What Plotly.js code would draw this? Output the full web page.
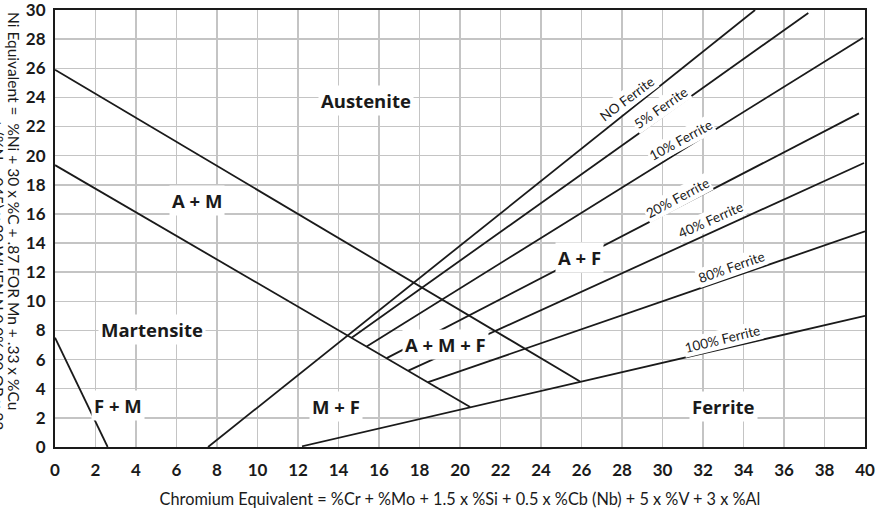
<!DOCTYPE html>
<html>
<head>
<meta charset="utf-8">
<script src="https://cdn.plot.ly/plotly-3.0.1.min.js"></script>
<style>html,body{margin:0;padding:0;background:#fff;}#chart{width:888px;height:523px;}</style>
</head>
<body>
<div id="chart"></div>
<script>
// Boundary lines (Chromium equivalent x, Nickel equivalent y)
const noFerriteX = [7.56, 34.57], noFerriteY = [0, 30];
const ferrite5X = [14.65, 37.2], ferrite5Y = [7.5, 29.8];
const ferrite10X = [15.39, 39.9], ferrite10Y = [6.9, 28.1];
const ferrite20X = [16.38, 39.7], ferrite20Y = [6.1, 22.9];
const ferrite40X = [17.45, 39.95], ferrite40Y = [5.24, 19.5];
const ferrite80X = [18.43, 40], ferrite80Y = [4.45, 14.8];
const ferrite100X = [12.2, 40], ferrite100Y = [0.05, 9.0];
const upperMartX = [0, 25.93], upperMartY = [25.9, 4.5];
const lowerMartX = [0, 20.5], lowerMartY = [19.35, 2.75];
const fmLineX = [0, 2.6], fmLineY = [7.5, 0];

// Region labels
const regionText = ["Austenite", "A + M", "Martensite", "F + M", "M + F", "A + M + F", "A + F", "Ferrite"];
const regionX = [15.36, 7.0, 4.8, 3.1, 13.9, 19.26, 25.9, 33.0];
const regionY = [23.8, 16.9, 8.1, 2.85, 2.75, 7.07, 13.0, 2.8];

// Ferrite line labels
const ferriteText = ["NO Ferrite", "5% Ferrite", "10% Ferrite", "20% Ferrite", "40% Ferrite", "80% Ferrite", "100% Ferrite"];
const ferriteLabelX = [28.23, 29.9, 30.9, 30.74, 32.35, 33.42, 32.96];
const ferriteLabelY = [23.9, 23.3, 21.1, 17.1, 15.6, 12.33, 7.4];
const ferriteLabelAngle = [-37, -35, -28.5, -28, -24, -19.5, -13.7];

const xTicks = [0,2,4,6,8,10,12,14,16,18,20,22,24,26,28,30,32,34,36,38,40];
const yTicks = [0,2,4,6,8,10,12,14,16,18,20,22,24,26,28,30];

const yTitleMain = 'Ni Equivalent =  %Ni + 30 x %C + .87 FOR Mn + .33 x %Cu';
const yTitleSecond = '+ (%N - .045) x 30 WHEN N 0.0% 30 OR x 22';
const xTitle = 'Chromium Equivalent = %Cr + %Mo + 1.5 x %Si + 0.5 x %Cb (Nb) + 5 x %V + 3 x %Al';

const lineSets = [
  [noFerriteX, noFerriteY], [ferrite5X, ferrite5Y], [ferrite10X, ferrite10Y],
  [ferrite20X, ferrite20Y], [ferrite40X, ferrite40Y], [ferrite80X, ferrite80Y],
  [ferrite100X, ferrite100Y], [upperMartX, upperMartY], [lowerMartX, lowerMartY],
  [fmLineX, fmLineY]
];

const traces = lineSets.map(function(s){
  return {x: s[0], y: s[1], mode: 'lines', type: 'scatter', hoverinfo: 'skip',
          line: {color: '#1a1a1a', width: 1.8}, showlegend: false, cliponaxis: false};
});

const annotations = [];
regionText.forEach(function(t, i){
  annotations.push({x: regionX[i], y: regionY[i], xref: 'x', yref: 'y', text: t, showarrow: false,
    font: {family: '"Open Sans", sans-serif', size: 18.5, color: '#1a1a1a', weight: 'bold'},
    bgcolor: '#ffffff', borderpad: 2});
});
ferriteText.forEach(function(t, i){
  annotations.push({x: ferriteLabelX[i], y: ferriteLabelY[i], xref: 'x', yref: 'y', text: t, showarrow: false,
    textangle: ferriteLabelAngle[i],
    font: {family: 'Lato, sans-serif', size: 13.5, color: '#1a1a1a'},
    bgcolor: '#ffffff', borderpad: 1});
});
// Y-axis title (reads top to bottom)
annotations.push({xref: 'paper', yref: 'paper', x: -0.0506, y: 1.0, xanchor: 'center', yanchor: 'top',
  text: yTitleMain, showarrow: false, textangle: 90,
  font: {family: 'Lato, sans-serif', size: 15.5, color: '#1a1a1a'}});
annotations.push({xref: 'paper', yref: 'paper', x: -0.0695, y: 0.755, xanchor: 'center', yanchor: 'top',
  text: yTitleSecond, showarrow: false, textangle: 90,
  font: {family: 'Lato, sans-serif', size: 15.5, color: '#1a1a1a'}});

const layout = {
  width: 888, height: 523,
  margin: {l: 55, r: 23, t: 10, b: 76},
  paper_bgcolor: '#ffffff', plot_bgcolor: '#ffffff',
  showlegend: false,
  xaxis: {
    range: [0, 40], tickvals: xTicks, ticktext: xTicks.map(String),
    showgrid: true, gridcolor: '#c4c4c4', gridwidth: 1.5,
    zeroline: false, showline: true, linecolor: '#1a1a1a', linewidth: 2, mirror: true,
    ticks: '', ticklabelstandoff: 7, ticklabeloverflow: 'allow',
    tickfont: {family: 'Lato, sans-serif', size: 17, color: '#1a1a1a', weight: 'bold'},
    title: {text: xTitle,
            font: {family: 'Lato, sans-serif', size: 16.3, color: '#1a1a1a'}, standoff: 14},
    fixedrange: true
  },
  yaxis: {
    range: [0, 30], tickvals: yTicks, ticktext: yTicks.map(String),
    showgrid: true, gridcolor: '#c4c4c4', gridwidth: 1.5,
    zeroline: false, showline: true, linecolor: '#1a1a1a', linewidth: 2, mirror: true,
    ticks: '', ticklabelstandoff: 4, ticklabeloverflow: 'allow',
    tickfont: {family: 'Lato, sans-serif', size: 17, color: '#1a1a1a', weight: 'bold'},
    fixedrange: true
  },
  annotations: annotations
};

Plotly.newPlot('chart', traces, layout, {staticPlot: true, displayModeBar: false});
</script>
</body>
</html>
